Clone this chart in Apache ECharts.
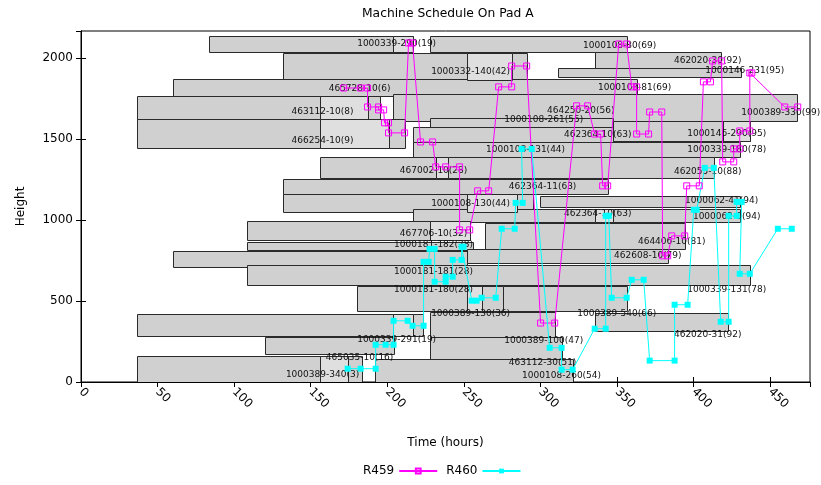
<!DOCTYPE html>
<html>
<head>
<meta charset="utf-8">
<script src="https://cdn.jsdelivr.net/npm/echarts@6/dist/echarts.min.js"></script>
<style>
html, body { margin: 0; padding: 0; background: #fff; }
#main { width: 821px; height: 485px; }
</style>
</head>
<body>
<div id="main"></div>
<script>
// job boxes on the pad: time span and height span
var boxStart = [83.9, 227.7, 131.6, 335.4, 311.3, 59.8, 36.3, 203.4, 36.3, 227.7, 216.5, 347.2, 216.5, 155.8, 131.6, 131.6, 299.5,
                216.5, 108.1, 263.6, 108.1, 59.8, 251.8, 108.1, 179.9, 275.3, 36.3, 227.7, 335.4, 119.9, 227.7, 36.3, 191.7];
var boxEnd   = [216.5, 356.3, 291.0, 417.7, 430.8, 362.8, 195.0, 467.3, 211.3, 347.2, 347.2, 436.7, 430.1, 413.2, 343.9, 294.9, 430.1,
                430.1, 253.8, 394.2, 255.8, 251.8, 383.1, 436.7, 275.3, 356.3, 223.0, 309.3, 422.3, 204.1, 313.8, 183.2, 321.0];
var boxLow   = [2038, 2038, 1865, 1939, 1884, 1766, 1624, 1612, 1445, 1575, 1482, 1489, 1390, 1260, 1162, 1050, 1082,
                989, 878, 822, 816, 711, 736, 600, 440, 440, 285, 279, 316, 175, 144, 0, 0];
var boxHigh  = [2136, 2136, 2032, 2038, 1939, 1871, 1766, 1779, 1624, 1630, 1575, 1612, 1482, 1390, 1254, 1162, 1149,
                1069, 995, 983, 865, 810, 822, 724, 594, 594, 421, 434, 427, 279, 279, 162, 144];

// lighter part of some boxes
var lightStart = [203.4, 251.8, 155.8, 155.8, 419.0, 231.6, 251.8, 335.4, 227.7, 251.8, 203.4, 155.8];
var lightEnd   = [216.5, 281.2, 187.1, 200.8, 436.7, 239.4, 284.4, 347.2, 253.8, 261.6, 216.5, 174.1];
var lightLow   = [2038, 1865, 1624, 1445, 1489, 1260, 1050, 989, 878, 440, 285, 0];
var lightHigh  = [2136, 2032, 1766, 1624, 1612, 1390, 1162, 1069, 995, 594, 421, 162];

// job names
var jobLabels = ['1000339-290(19)', '1000108-80(69)', '462020-30(92)', '1000332-140(42)', '1000146-231(95)',
                 '465728-10(6)', '1000108-81(69)', '463112-10(8)', '464250-20(56)', '1000389-330(99)',
                 '1000108-261(55)', '462364-10(63)', '1000146-290(95)', '466254-10(9)', '1000108-131(44)',
                 '1000339-180(78)', '467002-10(28)', '462055-10(88)', '462364-11(63)', '1000062-41(94)',
                 '1000108-130(44)', '462364-10(63)', '1000062-0(94)', '467706-10(32)', '1000181-182(28)',
                 '464406-10(81)', '462608-10(79)', '1000181-181(28)', '1000181-180(28)', '1000339-131(78)',
                 '1000389-130(36)', '1000389-540(66)', '462020-31(92)', '1000339-291(19)', '1000389-100(47)',
                 '465035-10(16)', '463112-30(51)', '1000389-340(3)', '1000108-260(54)'];
var labelTime   = [206.1, 351.7, 409.2, 254.4, 433.4, 181.9, 361.5, 157.7, 326.3, 456.9,
                   302.1, 337.4, 421.6, 157.7, 290.3, 421.6, 230.2, 409.2, 301.4, 418.3,
                   254.4, 337.4, 421.6, 230.2, 230.2, 385.7, 370.1, 230.2, 230.2, 421.6,
                   254.4, 349.8, 409.2, 206.1, 302.1, 181.9, 301.4, 157.7, 313.8];
var labelHeight = [2087, 2075, 1982, 1914, 1920, 1809, 1815, 1667, 1673, 1661,
                   1618, 1525, 1531, 1488, 1433, 1433, 1303, 1297, 1205, 1119,
                   1100, 1038, 1020, 915, 847, 865, 779, 680, 569, 569,
                   421, 421, 292, 261, 255, 150, 119, 45, 39];

// machine R459 path
var r459Time   = [171.5, 182.6, 187.1, 187.1, 194.3, 194.3, 197.6, 198.2, 200.8, 200.8, 211.3, 213.9, 216.5, 221.7, 229.6,
                  231.6, 238.1, 247.2, 247.2, 253.8, 259.0, 266.2, 272.7, 281.2, 281.2, 291.0, 300.1, 309.3, 323.6, 330.8,
                  335.4, 339.3, 340.6, 343.9, 351.1, 356.3, 359.6, 362.8, 362.8, 370.6, 371.3, 379.2, 379.8, 383.1, 385.7,
                  394.2, 395.5, 403.7, 406.4, 411.0, 412.4, 418.3, 419.0, 426.2, 426.2, 430.1, 430.1, 436.7, 436.7, 438.0,
                  459.5, 468.0];
var r459Height = [1815, 1815, 1815, 1698, 1698, 1680, 1680, 1600, 1600, 1538, 1538, 2093, 2093, 1482, 1482,
                  1328, 1328, 1328, 939, 939, 1180, 1180, 1822, 1822, 1951, 1951, 364, 364, 1705, 1705,
                  1531, 1531, 1211, 1211, 2087, 2087, 1822, 1822, 1531, 1531, 1667, 1667, 779, 779, 902,
                  902, 1211, 1211, 1853, 1853, 1982, 1982, 1359, 1359, 1439, 1439, 1550, 1550, 1908, 1908,
                  1698, 1698];

// machine R460 path
var r460Time   = [174.1, 182.6, 192.4, 192.4, 198.9, 204.1, 204.1, 213.3, 216.5, 223.7, 223.7, 227.0, 227.6, 230.9, 230.9,
                  238.1, 238.1, 242.7, 242.7, 248.5, 248.5, 249.8, 255.1, 258.3, 261.6, 270.8, 274.7, 283.2, 283.8, 288.4,
                  287.7, 294.3, 306.0, 313.8, 313.8, 321.0, 335.4, 342.6, 342.6, 344.6, 346.5, 356.3, 359.6, 367.4, 371.3,
                  387.6, 387.6, 396.1, 400.1, 402.0, 407.3, 413.2, 417.7, 422.9, 422.9, 428.1, 428.1, 431.4, 430.1, 436.7,
                  455.0, 464.1];
var r460Height = [82, 82, 82, 230, 230, 230, 378, 378, 347, 347, 742, 742, 822, 822, 619,
                  619, 650, 650, 754, 754, 835, 835, 502, 502, 520, 520, 946, 946, 1106, 1106,
                  1439, 1439, 211, 211, 76, 76, 329, 329, 1026, 1026, 520, 520, 631, 631, 132,
                  132, 477, 477, 1063, 1063, 1322, 1322, 372, 372, 1026, 1026, 1112, 1112, 668, 668,
                  946, 946];

function zip(a, b) {
    var out = [];
    for (var i = 0; i < a.length; i++) out.push([a[i], b[i]]);
    return out;
}
function boxRows(s, e, lo, hi) {
    var out = [];
    for (var i = 0; i < s.length; i++) out.push([s[i], e[i], lo[i], hi[i]]);
    return out;
}
function rectRenderer(fill) {
    return function (params, api) {
        var p0 = api.coord([api.value(0), api.value(3)]);
        var p1 = api.coord([api.value(1), api.value(2)]);
        return {
            type: 'rect',
            shape: { x: Math.round(p0[0]) + 0.5, y: Math.round(p0[1]) + 0.5,
                     width: Math.round(p1[0]) - Math.round(p0[0]), height: Math.round(p1[1]) - Math.round(p0[1]) },
            style: { fill: fill, stroke: '#2a2a2a', lineWidth: 1 }
        };
    };
}

var labelRows = [];
for (var i = 0; i < jobLabels.length; i++) labelRows.push([labelTime[i], labelHeight[i], jobLabels[i]]);

var myChart = echarts.init(document.getElementById('main'));
var tickStyle = { inside: true, length: 5, lineStyle: { color: '#000' } };
var option = {
    animation: false,
    backgroundColor: '#fff',
    title: {
        text: 'Machine Schedule On Pad A',
        left: 357, top: 3,
        textStyle: { fontFamily: 'DejaVu Sans', fontSize: 12.3, fontWeight: 'normal', color: '#000' }
    },
    legend: {
        left: 358, bottom: 3,
        align: 'right',
        itemWidth: 38, itemHeight: 6, itemGap: 8,
        textStyle: { fontFamily: 'DejaVu Sans', fontSize: 12, color: '#000' },
        data: ['R459', 'R460']
    },
    grid: { left: 81, right: 11, top: 31, bottom: 103, show: true, borderColor: '#000', borderWidth: 1 },
    xAxis: [{
        type: 'value', min: 0, max: 476, interval: 50,
        name: 'Time (hours)', nameLocation: 'middle', nameGap: 55,
        nameTextStyle: { fontFamily: 'DejaVu Sans', fontSize: 12, color: '#000' },
        axisLine: { lineStyle: { color: '#000' } },
        axisTick: tickStyle,
        splitLine: { show: false },
        axisLabel: { rotate: -45, showMaxLabel: false, fontFamily: 'DejaVu Sans', fontSize: 12, color: '#000', margin: 8 }
    }, {
        type: 'value', min: 0, max: 476, interval: 50, position: 'top',
        axisLine: { lineStyle: { color: '#000' } },
        axisTick: tickStyle, axisLabel: { show: false }, splitLine: { show: false }
    }],
    yAxis: [{
        type: 'value', min: 0, max: 2167, interval: 500,
        name: 'Height', nameLocation: 'middle', nameGap: 54,
        nameTextStyle: { fontFamily: 'DejaVu Sans', fontSize: 12, color: '#000' },
        axisLine: { show: true, lineStyle: { color: '#000' } },
        axisTick: tickStyle,
        splitLine: { show: false },
        axisLabel: { showMaxLabel: false, fontFamily: 'DejaVu Sans', fontSize: 12, color: '#000', margin: 8,
                     formatter: function (v) { return String(v); } }
    }, {
        type: 'value', min: 0, max: 2167, interval: 500, position: 'right',
        axisLine: { show: true, lineStyle: { color: '#000' } },
        axisTick: tickStyle, axisLabel: { show: false }, splitLine: { show: false }
    }],
    series: [
        {
            type: 'custom', name: 'jobs', silent: true, clip: true,
            renderItem: rectRenderer('#d0d0d0'),
            encode: { x: [0, 1], y: [2, 3] },
            data: boxRows(boxStart, boxEnd, boxLow, boxHigh)
        },
        {
            type: 'custom', name: 'wait', silent: true, clip: true,
            renderItem: rectRenderer('#dfdfdf'),
            encode: { x: [0, 1], y: [2, 3] },
            data: boxRows(lightStart, lightEnd, lightLow, lightHigh)
        },
        {
            type: 'custom', name: 'names', silent: true,
            renderItem: function (params, api) {
                var p = api.coord([api.value(0), api.value(1)]);
                return {
                    type: 'text', x: p[0], y: p[1],
                    style: { text: labelRows[params.dataIndex][2], fill: '#111',
                             font: '9px "DejaVu Sans"', align: 'center', verticalAlign: 'middle' }
                };
            },
            encode: { x: 0, y: 1 },
            data: labelRows
        },
        {
            name: 'R459', type: 'line', data: zip(r459Time, r459Height),
            symbol: 'rect', symbolSize: 6,
            lineStyle: { color: '#ff00ff', width: 1 },
            itemStyle: { color: 'rgba(0,0,0,0)', borderColor: '#ff00ff', borderWidth: 1 }
        },
        {
            name: 'R460', type: 'line', data: zip(r460Time, r460Height),
            symbol: 'rect', symbolSize: 6,
            lineStyle: { color: '#00ffff', width: 1 },
            itemStyle: { color: '#00ffff' }
        }
    ]
};
myChart.setOption(option);
</script>
</body>
</html>
